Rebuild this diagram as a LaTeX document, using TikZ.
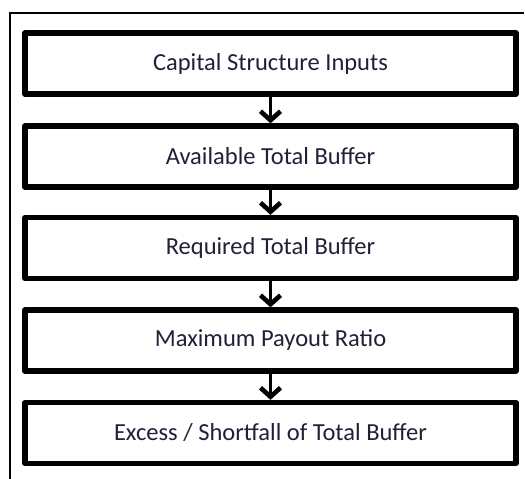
\documentclass[tikz,border=0pt]{standalone}
\usepackage{fontspec}
\setmainfont{Carlito}
\usetikzlibrary{arrows.meta}
\definecolor{txt}{RGB}{32,32,56}
\begin{document}
\begin{tikzpicture}[x=1pt,y=-1pt,
  stepbox/.style={draw=black, line width=5.3pt, line join=round,
    minimum width=491pt, minimum height=61pt, inner sep=0pt,
    font=\fontsize{24.5}{28}\selectfont, text=txt},
  flow/.style={draw=black, line width=3.4pt,
    -{Straight Barb[length=9pt,width=20pt,line width=4.6pt]}},
  frame/.style={draw=black, line width=1.6pt}]
\useasboundingbox (0,0) rectangle (525,479);
\draw[frame] (10,479) -- (10,12.7) -- (524,12.7);
\node[stepbox] (b1) at (270.5,63.5) {Capital Structure Inputs};
\node[stepbox] (b2) at (270.5,156.5) {Available Total Buffer};
\node[stepbox] (b3) at (270.5,248) {Required Total Buffer};
\node[stepbox] (b4) at (270.5,340.5) {Maximum Payout Ratio};
\node[stepbox] (b5) at (270.5,433) {Excess / Shortfall of Total Buffer};
\draw[flow] (b1.south) -- (b2.north);
\draw[flow] (b2.south) -- (b3.north);
\draw[flow] (b3.south) -- (b4.north);
\draw[flow] (b4.south) -- (b5.north);
\end{tikzpicture}
\end{document}
